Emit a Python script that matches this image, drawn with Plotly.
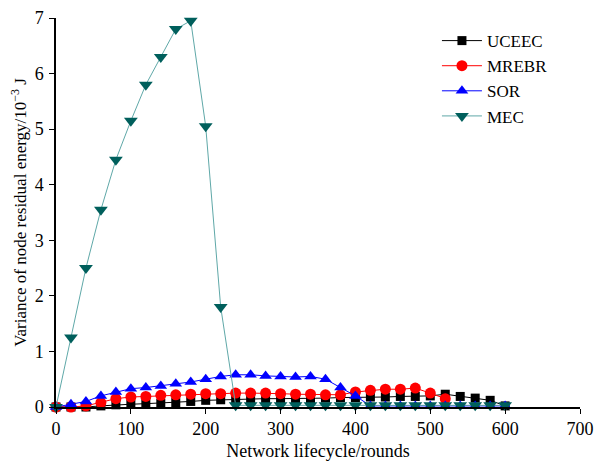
import plotly.graph_objects as go

rounds = list(range(0, 620, 20))

uceec = [0, 0, 0, 0.02, 0.04, 0.05, 0.06, 0.07, 0.08, 0.10, 0.12, 0.13, 0.14, 0.14, 0.15, 0.15,
         0.15, 0.15, 0.16, 0.17, 0.17, 0.18, 0.18, 0.19, 0.19, 0.20, 0.23, 0.19, 0.16, 0.12, 0.02]
mrebr = [0, 0, 0.02, 0.08, 0.15, 0.18, 0.19, 0.21, 0.22, 0.23, 0.24, 0.24, 0.25, 0.25, 0.25, 0.24,
         0.23, 0.23, 0.22, 0.22, 0.27, 0.30, 0.32, 0.32, 0.34, 0.25, 0.15]
sor = [0, 0.05, 0.10, 0.20, 0.27, 0.33, 0.35, 0.38, 0.42, 0.45, 0.50, 0.55, 0.58, 0.58, 0.56, 0.55,
       0.54, 0.55, 0.50, 0.35, 0.20, 0.02, 0.02, 0.02, 0.02, 0.02, 0.02, 0.02, 0.02, 0.02, 0.02]
mec = [0, 1.25, 2.50, 3.55, 4.45, 5.15, 5.80, 6.30, 6.80, 6.95, 5.05, 1.80, 0.03, 0.03, 0.03, 0.03,
       0.03, 0.03, 0.03, 0.03, 0.03, 0.03, 0.03, 0.03, 0.03, 0.03, 0.03, 0.03, 0.03, 0.03, 0.03]

x_ticks = [0, 100, 200, 300, 400, 500, 600, 700]
y_ticks = [0, 1, 2, 3, 4, 5, 6, 7]

font = "Liberation Serif, Times New Roman, serif"

fig = go.Figure()
fig.add_trace(go.Scatter(x=rounds[:len(uceec)], y=uceec, name="UCEEC", mode="lines+markers",
                         line=dict(color="#000000", width=1),
                         marker=dict(symbol="square", size=9, color="#000000"), cliponaxis=False))
fig.add_trace(go.Scatter(x=rounds[:len(mrebr)], y=mrebr, name="MREBR", mode="lines+markers",
                         line=dict(color="#ff0000", width=1),
                         marker=dict(symbol="circle", size=11, color="#ff0000"), cliponaxis=False))
fig.add_trace(go.Scatter(x=rounds[:len(sor)], y=sor, name="SOR", mode="lines+markers",
                         line=dict(color="#0000ff", width=1),
                         marker=dict(symbol="triangle-up", size=11, color="#0000ff"), cliponaxis=False))
fig.add_trace(go.Scatter(x=rounds[:len(mec)], y=mec, name="MEC", mode="lines+markers",
                         line=dict(color="#5fa8a8", width=1),
                         marker=dict(symbol="triangle-down", size=12, color="#005f5c"), cliponaxis=False))

axis_common = dict(showline=True, linecolor="#000000", linewidth=1.5, ticks="outside",
                   ticklen=5, tickcolor="#000000", showgrid=False, zeroline=False,
                   automargin=False,
                   tickfont=dict(family=font, size=18, color="#000000"))

fig.update_layout(
    width=594, height=454,
    paper_bgcolor="white", plot_bgcolor="white",
    margin=dict(l=48, r=22, t=10, b=55),
    font=dict(family=font, size=17, color="#000000"),
    xaxis=dict(range=[0, 700], tickvals=x_ticks, title=dict(text="Network lifecycle/rounds",
               font=dict(family=font, size=18), standoff=6), **axis_common),
    yaxis=dict(range=[0, 7], tickvals=y_ticks, ticklabelstandoff=2,
               title=dict(text="Variance of node residual energy/10<sup>−3</sup> J",
                          font=dict(family=font, size=17), standoff=11), **axis_common),
    legend=dict(x=0.727, y=0.987, xanchor="left", yanchor="top", bgcolor="rgba(0,0,0,0)",
                font=dict(family=font, size=17), tracegroupgap=0, itemwidth=40),
)

fig.write_html("out.html")
